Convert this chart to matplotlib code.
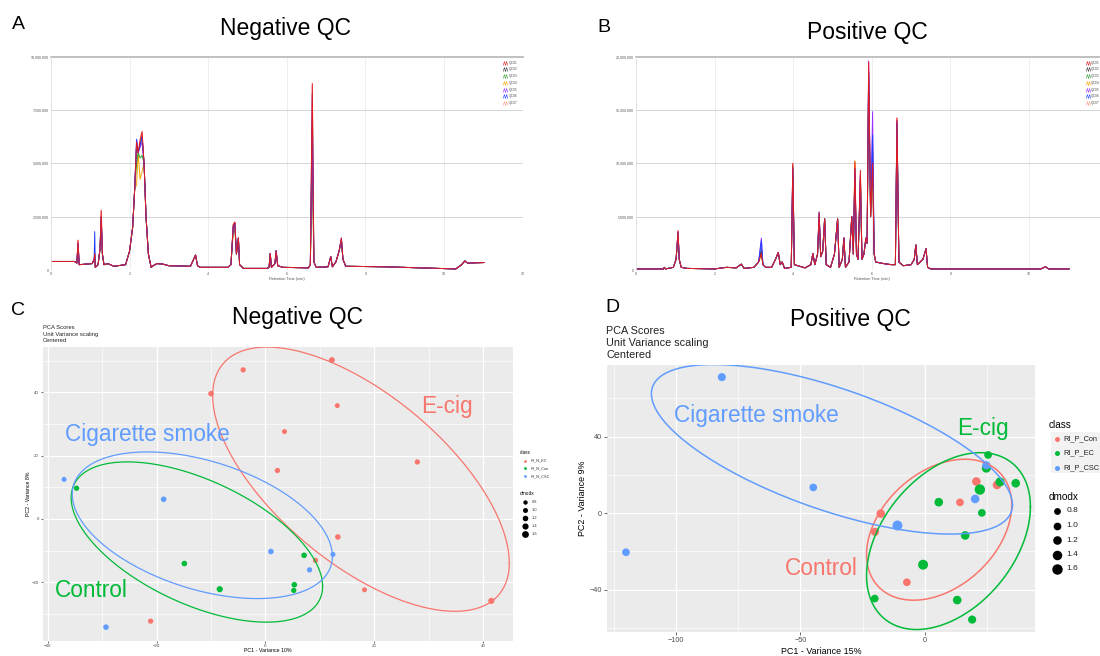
import numpy as np
import matplotlib
matplotlib.use('Agg')
import matplotlib.pyplot as plt
from matplotlib.path import Path
from matplotlib.lines import Line2D
from matplotlib.patches import Rectangle

plt.rcParams['font.family'] = ['Liberation Sans', 'DejaVu Sans']

# ---------------- DATA ----------------
sample_labels = ['QC01', 'QC02', 'QC03', 'QC04', 'QC05', 'QC06', 'QC07']
sample_colors = ['#E41A1C', '#333333', '#2CA02C', '#FFA500', '#9B30FF', '#1F3FFF', '#FF9A8A']

# Negative QC chromatogram (retention time, min; intensity in grid units of 2.5e6)
neg_t = [0.0, 0.6, 0.66, 0.69, 0.72, 1.05, 1.1, 1.115, 1.13, 1.2, 1.25, 1.28, 1.31, 1.35, 1.45,
         1.6, 1.9, 2.0, 2.08, 2.13, 2.18, 2.22, 2.27, 2.32, 2.37, 2.42, 2.48, 2.55, 2.6, 2.7,
         2.85, 3.0, 3.55, 3.63, 3.68, 3.73, 3.8, 4.5, 4.58, 4.64, 4.68, 4.72, 4.77, 4.8, 4.9,
         5.5, 5.55, 5.58, 5.61, 5.7, 5.73, 5.77, 5.9, 6.55, 6.6, 6.65, 6.69, 6.75, 7.05, 7.12,
         7.16, 7.25, 7.33, 7.39, 7.43, 7.5, 8.5, 10.3, 10.45, 10.53, 10.6, 11.02]
neg_y = [0.16, 0.16, 0.13, 0.56, 0.10, 0.12, 0.20, 0.30, 0.05, 0.10, 0.40, 1.12, 0.30, 0.10, 0.12,
         0.07, 0.10, 0.35, 0.80, 1.50, 2.40, 2.20, 2.45, 2.60, 2.00, 1.00, 0.30, 0.05, 0.08, 0.12,
         0.11, 0.08, 0.07, 0.20, 0.28, 0.08, 0.05, 0.05, 0.10, 0.85, 0.90, 0.30, 0.60, 0.10, 0.03,
         0.03, 0.05, 0.31, 0.05, 0.12, 0.36, 0.08, 0.05, 0.04, 0.10, 3.50, 0.15, 0.05, 0.06, 0.25,
         0.06, 0.15, 0.35, 0.60, 0.20, 0.07, 0.06, 0.02, 0.10, 0.17, 0.13, 0.14]
neg_apex_t = [0.69, 1.115, 1.28, 2.18, 2.27, 2.32, 4.64, 4.68, 6.65, 7.39]
neg_apex_h = {
    'QC01': [0.56, 0.30, 1.12, 2.40, 2.45, 2.60, 0.85, 0.90, 3.50, 0.60],
    'QC02': [0.50, 0.25, 1.00, 2.30, 2.35, 2.50, 0.85, 0.88, 2.80, 0.55],
    'QC03': [0.45, 0.20, 0.90, 2.00, 2.10, 2.15, 0.78, 0.80, 2.20, 0.55],
    'QC04': [0.40, 0.20, 0.85, 1.60, 1.70, 1.85, 0.70, 0.75, 2.00, 0.50],
    'QC05': [0.50, 0.30, 1.00, 2.45, 2.30, 2.40, 0.80, 0.85, 2.60, 0.58],
    'QC06': [0.50, 0.72, 1.00, 2.45, 2.35, 2.50, 0.82, 0.88, 3.30, 0.60],
    'QC07': [0.55, 0.30, 1.10, 2.35, 2.40, 2.55, 0.85, 0.90, 3.45, 0.60],
}

# Positive QC chromatogram
pos_t = [0.0, 0.7, 0.72, 0.75, 0.95, 1.02, 1.07, 1.1, 1.15, 1.3, 2.0, 2.3, 2.55, 2.68, 2.75,
         3.0, 3.12, 3.19, 3.23, 3.3, 3.45, 3.55, 3.62, 3.67, 3.72, 3.78, 3.95, 3.99, 4.03, 4.3,
         4.45, 4.5, 4.55, 4.62, 4.66, 4.7, 4.75, 4.8, 4.84, 4.95, 5.05, 5.13, 5.17, 5.25, 5.29,
         5.33, 5.42, 5.49, 5.53, 5.57, 5.61, 5.65, 5.71, 5.75, 5.8, 5.85, 5.88, 5.92, 5.97, 6.02,
         6.06, 6.1, 6.3, 6.5, 6.6, 6.64, 6.69, 6.8, 7.0, 7.08, 7.12, 7.16, 7.3, 7.38, 7.42, 7.5,
         10.3, 10.42, 10.5, 11.02]
pos_y = [0.02, 0.02, 0.05, 0.02, 0.05, 0.20, 0.74, 0.20, 0.05, 0.03, 0.02, 0.05, 0.04, 0.11, 0.03,
         0.05, 0.15, 0.31, 0.10, 0.05, 0.05, 0.20, 0.33, 0.10, 0.15, 0.03, 0.05, 2.00, 0.10, 0.04,
         0.10, 0.31, 0.10, 0.30, 1.08, 0.25, 0.35, 0.96, 0.10, 0.05, 0.30, 0.96, 0.05, 0.20, 0.60,
         0.05, 0.15, 1.00, 0.30, 2.03, 0.30, 0.20, 1.87, 0.20, 0.30, 0.60, 0.50, 3.90, 1.00, 2.00,
         0.30, 0.15, 0.12, 0.10, 0.10, 2.85, 0.15, 0.08, 0.10, 0.20, 0.47, 0.10, 0.20, 0.40, 0.05,
         0.02, 0.02, 0.06, 0.02, 0.02]
pos_apex_t = [1.07, 3.19, 3.99, 4.66, 5.57, 5.71, 5.92, 6.02, 6.64]
pos_apex_h = {
    'QC01': [0.74, 0.31, 2.00, 1.08, 2.03, 1.87, 3.90, 2.00, 2.85],
    'QC02': [0.70, 0.35, 1.95, 1.05, 1.90, 1.75, 3.70, 2.30, 2.80],
    'QC03': [0.65, 0.40, 1.80, 1.00, 1.70, 1.60, 3.50, 2.10, 2.70],
    'QC04': [0.60, 0.30, 1.60, 0.95, 2.05, 1.50, 3.30, 1.90, 2.60],
    'QC05': [0.72, 0.60, 1.90, 1.05, 1.90, 1.80, 3.92, 2.97, 2.80],
    'QC06': [0.70, 0.55, 1.90, 1.09, 1.80, 1.70, 3.70, 2.53, 2.75],
    'QC07': [0.72, 0.30, 2.00, 1.05, 2.00, 1.85, 3.80, 2.00, 2.85],
}
chrom_xticks = [0, 2, 4, 6, 8, 10, 12]
chrom_yticks = [0, 1, 2, 3, 4]

# PCA scores - Negative QC (panel C)
neg_classes = ['RI_N_EC', 'RI_N_Con', 'RI_N_CSC']
neg_ec_x = [12.2, -4.1, -10.0, 13.2, 3.5, 27.9, 2.2, 13.3, 9.2, 18.2, 41.5, -21.1]
neg_ec_y = [50.2, 47.1, 39.6, 35.8, 27.6, 18.0, 15.3, -5.7, -13.1, -22.4, -25.9, -32.3]
neg_ec_d = [1.3, 1.1, 1.2, 1.0, 1.0, 1.1, 1.1, 1.2, 1.1, 1.0, 1.4, 1.1]
neg_con_x = [-34.7, -14.9, -8.4, 7.1, 5.3, 5.2]
neg_con_y = [9.7, -14.1, -22.2, -11.5, -20.8, -22.6]
neg_con_d = [1.1, 1.2, 1.4, 1.2, 1.2, 1.1]
neg_csc_x = [-37.0, -18.7, 1.0, 12.4, 8.1, -29.3]
neg_csc_y = [12.5, 6.2, -10.3, -11.2, -16.1, -34.2]
neg_csc_d = [1.0, 1.2, 1.2, 1.0, 1.1, 1.2]
# ellipses: centre, x half-extent, y offset at x-extreme, conjugate half-height
neg_ell_center = [(17.55, 12.55), (-12.6, -7.3), (-11.6, -2.0)]
neg_ell_ax = [27.25, 23.1, 23.9]
neg_ell_ay = [-26.45, -14.0, -9.8]
neg_ell_by = [32.3, 21.1, 21.0]

# PCA scores - Positive QC (panel D)
pos_classes = ['RI_P_Con', 'RI_P_EC', 'RI_P_CSC']
pos_con_x = [-17.7, -20.0, -7.2, 14.1, 20.7, 29.0]
pos_con_y = [-0.3, -9.8, -36.2, 5.6, 16.5, 14.7]
pos_con_d = [1.2, 1.1, 1.0, 1.0, 1.2, 1.2]
pos_ec_x = [25.4, 24.7, 30.2, 36.5, 22.1, 5.6, 22.9, 16.2, -0.7, -20.1, 13.0, 19.0]
pos_ec_y = [30.4, 23.5, 16.3, 15.6, 12.3, 5.7, 0.1, -11.7, -27.0, -44.7, -45.5, -55.7]
pos_ec_d = [1.0, 1.3, 1.3, 1.2, 1.6, 1.2, 1.0, 1.2, 1.5, 1.0, 1.2, 1.1]
pos_csc_x = [-81.5, -44.8, -120.0, -11.0, 20.2, 24.7]
pos_csc_y = [71.1, 13.4, -20.5, -6.5, 7.4, 25.0]
pos_csc_d = [1.1, 1.0, 1.0, 1.5, 1.2, 1.1]
pos_ell_center = [(5.75, -8.7), (9.5, -14.65), (-37.3, 33.35)]
pos_ell_ax = [29.15, 32.9, 72.5]
pos_ell_ay = [13.0, 18.0, -29.05]
pos_ell_by = [34.5, 42.6, 33.5]

dmodx_levels = [0.8, 1.0, 1.2, 1.4, 1.6]

GG_RED, GG_GREEN, GG_BLUE = '#F8766D', '#00BA38', '#619CFF'

# ---------------- FIGURE ----------------
W, H = 1100, 656
fig = plt.figure(figsize=(11, 6.56), dpi=100)


def fx(x):
    return x / W


def fy(y):
    return 1 - y / H


def rect(l, t, r, b):
    return [l / W, 1 - b / H, (r - l) / W, (b - t) / H]


def ftext(x, y, s, **kw):
    fig.text(fx(x), fy(y), s, **kw)


zig = Path([(-1, -0.9), (-0.5, 0.9), (0, -0.9), (0.5, 0.9), (1, -0.9)],
           [Path.MOVETO, Path.LINETO, Path.LINETO, Path.LINETO, Path.LINETO])


def chromatogram(r, t, base, apex_t, apex_h, unit, leg_x, leg_y0, xlabels):
    ax = fig.add_axes(r)
    ax.set_xlim(0, 12)
    ax.set_ylim(0, 4)
    t = np.asarray(t)
    for xv in chrom_xticks[1:]:
        ax.axvline(xv, color='#e8e8e8', lw=0.5, zorder=0)
    for yv in chrom_yticks[1:-1]:
        ax.axhline(yv, color='#cfcfcf', lw=0.6, zorder=0)
    ax.axhline(4, color='#b5b5b5', lw=1.2, zorder=0, clip_on=False)
    order = [6, 3, 2, 1, 4, 5, 0]
    for i in order:
        lab = sample_labels[i]
        y = np.array(base, dtype=float)
        for ta, h in zip(apex_t, apex_h[lab]):
            y[np.argmin(np.abs(t - ta))] = h
        ax.plot(t, y, color=sample_colors[i], lw=0.7, zorder=2)
    for s in ['top', 'right', 'bottom']:
        ax.spines[s].set_visible(False)
    ax.spines['left'].set_color('#dddddd')
    ax.spines['left'].set_linewidth(0.6)
    ax.set_xticks(chrom_xticks)
    ax.set_xticklabels(xlabels)
    ax.set_yticks(chrom_yticks)
    ax.set_yticklabels([f'{v * unit:,.0f}' if v else '0' for v in chrom_yticks])
    ax.tick_params(length=0, labelsize=2.6, labelcolor='#555555', pad=1.5)
    ax.set_xlabel('Retention Time (min)', fontsize=2.8, color='#555555', labelpad=1)
    for i, lab in enumerate(sample_labels):
        yy = leg_y0 + 6.7 * i
        fig.add_artist(Line2D([fx(leg_x)], [fy(yy)], marker=zig, markersize=3.2,
                              mfc='none', mec=sample_colors[i], mew=0.4, ls='none'))
        ftext(leg_x + 3.5, yy, lab, fontsize=2.4, color='#555555', va='center')
    return ax


chromatogram(rect(50.9, 56.7, 522.6, 270), neg_t, neg_y, neg_apex_t, neg_apex_h,
             2.5e6, 505, 62.7, [str(v) for v in chrom_xticks])
chromatogram(rect(636, 56.7, 1107.6, 270), pos_t, pos_y, pos_apex_t, pos_apex_h,
             5.0e6, 1087.5, 62.7, [str(v) for v in chrom_xticks[:-1]] + [''])


def ellipse_pts(c, axv, ayv, byv):
    th = np.linspace(0, 2 * np.pi, 300)
    return c[0] + axv * np.cos(th), c[1] + ayv * np.cos(th) + byv * np.sin(th)


def pca_panel(r, groups, ell, xt, xminor, yt, yminor, rmin, rmax, lw_ell,
              tick_fs, tick_len):
    ax = fig.add_axes(r, facecolor='#EBEBEB')
    allx = np.concatenate([g[0] for g in groups])
    ally = np.concatenate([g[1] for g in groups])
    dx = (allx.max() - allx.min()) * 0.05
    dy = (ally.max() - ally.min()) * 0.05
    ax.set_xlim(allx.min() - dx, allx.max() + dx)
    ax.set_ylim(ally.min() - dy, ally.max() + dy)
    ax.set_xticks(xt)
    ax.set_xticks(xminor, minor=True)
    ax.set_yticks(yt)
    ax.set_yticks(yminor, minor=True)
    ax.grid(which='major', color='white', lw=0.9)
    ax.grid(which='minor', color='white', lw=0.45)
    ax.set_axisbelow(True)
    for s in ax.spines.values():
        s.set_visible(False)
    ax.tick_params(which='major', length=tick_len, width=0.5, color='#333333',
                   labelsize=tick_fs, labelcolor='#4D4D4D', pad=1.5)
    ax.tick_params(which='minor', length=0)
    for (gx, gy, gd, col) in groups:
        rad = rmin + (rmax - rmin) * (np.asarray(gd) - 0.8) / 0.8
        ax.scatter(gx, gy, s=(1.44 * rad) ** 2, color=col, edgecolors='none', zorder=3)
    for (c, a1, a2, b, col) in ell:
        ex, ey = ellipse_pts(c, a1, a2, b)
        ax.plot(ex, ey, color=col, lw=lw_ell, zorder=4)
    return ax


# ---- Panel C ----
neg_groups = [(np.array(neg_ec_x), np.array(neg_ec_y), neg_ec_d, GG_RED),
              (np.array(neg_con_x), np.array(neg_con_y), neg_con_d, GG_GREEN),
              (np.array(neg_csc_x), np.array(neg_csc_y), neg_csc_d, GG_BLUE)]
neg_ell = [(neg_ell_center[i], neg_ell_ax[i], neg_ell_ay[i], neg_ell_by[i], col)
           for i, col in enumerate([GG_RED, GG_GREEN, GG_BLUE])]
pca_panel(rect(42.7, 346.7, 512.7, 640.5), neg_groups, neg_ell,
          [-40, -20, 0, 20, 40], [-30, -10, 10, 30], [-20, 0, 20, 40], [-30, -10, 10, 30, 50],
          2.2, 3.4, 0.9, 3.2, 1.2)

# ---- Panel D ----
pos_groups = [(np.array(pos_con_x), np.array(pos_con_y), pos_con_d, GG_RED),
              (np.array(pos_ec_x), np.array(pos_ec_y), pos_ec_d, GG_GREEN),
              (np.array(pos_csc_x), np.array(pos_csc_y), pos_csc_d, GG_BLUE)]
pos_ell = [(pos_ell_center[i], pos_ell_ax[i], pos_ell_ay[i], pos_ell_by[i], col)
           for i, col in enumerate([GG_RED, GG_GREEN, GG_BLUE])]
pca_panel(rect(606.5, 365, 1035.2, 631.7), pos_groups, pos_ell,
          [-100, -50, 0], [-125, -75, -25, 25], [-40, 0, 40], [-60, -20, 20, 60],
          3.4, 5.2, 1.1, 5.2, 2.0)

# ---------------- TEXT ----------------
title_fs = 16.5
letter_fs = 14
ftext(18, 29.3, 'A', fontsize=letter_fs, ha='center', va='baseline')
ftext(285, 35.5, 'Negative QC', fontsize=title_fs, ha='center', va='baseline')
ftext(604, 31.7, 'B', fontsize=letter_fs, ha='center', va='baseline')
ftext(867, 39.5, 'Positive QC', fontsize=title_fs, ha='center', va='baseline')
ftext(18, 315, 'C', fontsize=letter_fs, ha='center', va='baseline')
ftext(298, 324, 'Negative QC', fontsize=title_fs, ha='center', va='baseline')
ftext(612, 311.5, 'D', fontsize=letter_fs, ha='center', va='baseline')
ftext(850, 326, 'Positive QC', fontsize=title_fs, ha='center', va='baseline')

# subtitles
for i, s in enumerate(['PCA Scores', 'Unit Variance scaling', 'Centered']):
    ftext(43, 327.7 + 6.6 * i, s, fontsize=4.2, va='center', color='#222222')
    ftext(606.5, 331 + 12.1 * i, s, fontsize=7.8, va='center', color='#222222')

# axis titles
ftext(268, 650, 'PC1 - Variance 10%', fontsize=3.8, ha='center', va='center')
ftext(29, 494, 'PC2 - Variance 8%', fontsize=3.8, ha='center', va='center', rotation=90)
ftext(821, 651, 'PC1 - Variance 15%', fontsize=6.4, ha='center', va='center')
ftext(582.4, 498.3, 'PC2 - Variance 9%', fontsize=6.4, ha='center', va='center', rotation=90)

# annotations
ann_fs = 16.3
ftext(65, 440.7, 'Cigarette smoke', fontsize=ann_fs, color=GG_BLUE, va='baseline')
ftext(421, 413, 'E-cig', fontsize=ann_fs, color=GG_RED, va='baseline')
ftext(55, 597, 'Control', fontsize=ann_fs, color=GG_GREEN, va='baseline')
ftext(673.6, 422, 'Cigarette smoke', fontsize=ann_fs, color=GG_BLUE, va='baseline')
ftext(956.7, 434.7, 'E-cig', fontsize=ann_fs, color=GG_GREEN, va='baseline')
ftext(784.5, 574.7, 'Control', fontsize=ann_fs, color=GG_RED, va='baseline')

# ---- legend C ----
ftext(520, 452.3, 'class', fontsize=3.4, va='center')
for i, (lab, col) in enumerate(zip(neg_classes, [GG_RED, GG_GREEN, GG_BLUE])):
    yy = 460.7 + 7.65 * i
    fig.add_artist(Line2D([fx(525)], [fy(yy)], marker='o', markersize=2.0,
                          mfc=col, mec='none', ls='none'))
    ftext(531, yy, lab, fontsize=2.8, va='center', color='#333333')
ftext(520, 493.3, 'dmodx', fontsize=3.4, va='center')
for i, lv in enumerate(dmodx_levels):
    yy = 502.3 + 8.0 * i
    rad = 2.2 + 1.2 * (lv - 0.8) / 0.8
    fig.add_artist(Line2D([fx(525)], [fy(yy)], marker='o', markersize=1.44 * rad,
                          mfc='black', mec='none', ls='none'))
    ftext(531.7, yy, f'{lv:.1f}', fontsize=2.8, va='center', color='#333333')

# ---- legend D ----
fig.add_artist(Rectangle((fx(1050.7), fy(473.3)), fx(1100) - fx(1050.7), fy(431.7) - fy(473.3),
                         transform=fig.transFigure, facecolor='#F2F2F2', edgecolor='none'))
ftext(1049, 425, 'class', fontsize=7.2, va='center')
for i, (lab, col) in enumerate(zip(pos_classes, [GG_RED, GG_GREEN, GG_BLUE])):
    yy = 438.5 + 14.6 * i
    fig.add_artist(Line2D([fx(1056.5)], [fy(yy)], marker='o', markersize=3.6,
                          mfc=col, mec='none', ls='none'))
    ftext(1063.5, yy, lab, fontsize=5.3, va='center', color='#222222')
ftext(1049, 496.7, 'dmodx', fontsize=7.2, va='center')
for i, lv in enumerate(dmodx_levels):
    yy = 511 + 14.5 * i
    rad = 3.4 + 1.8 * (lv - 0.8) / 0.8
    fig.add_artist(Line2D([fx(1056.7)], [fy(yy)], marker='o', markersize=2 * 0.72 * rad,
                          mfc='black', mec='none', ls='none'))
    ftext(1066.7, yy, f'{lv:.1f}', fontsize=6.0, va='center', color='#222222')

fig.savefig('out.png', dpi=100)
